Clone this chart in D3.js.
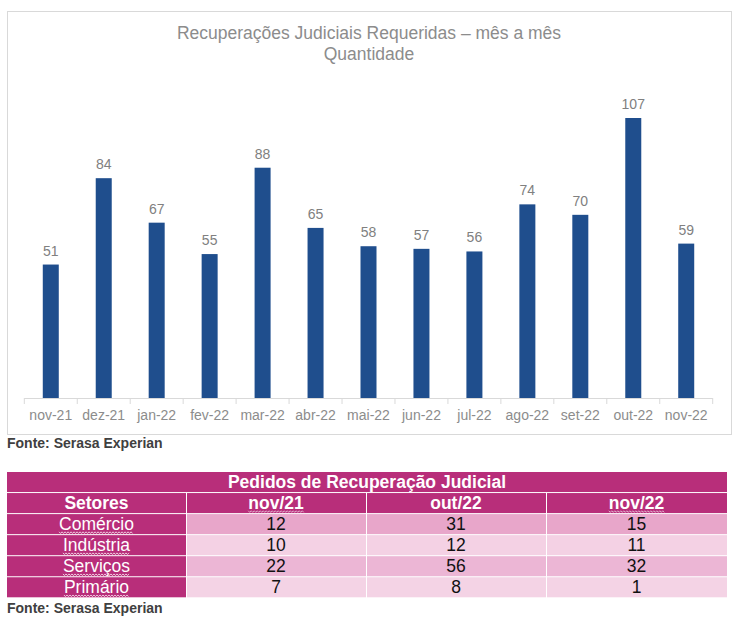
<!DOCTYPE html>
<html>
<head>
<meta charset="utf-8">
<script src="https://cdn.jsdelivr.net/npm/d3@7"></script>
<style>
  html, body { margin: 0; padding: 0; background: #fff; }
  svg { display: block; font-family: "Liberation Sans", Arial, sans-serif; }
</style>
</head>
<body>
<div id="vis"></div>
<script>
(function () {
  'use strict';

  // chart data
  var months = ['nov-21', 'dez-21', 'jan-22', 'fev-22', 'mar-22', 'abr-22', 'mai-22',
    'jun-22', 'jul-22', 'ago-22', 'set-22', 'out-22', 'nov-22'];
  var pedidos = [51, 84, 67, 55, 88, 65, 58, 57, 56, 74, 70, 107, 59];

  // table data
  var setores = ['Comércio', 'Indústria', 'Serviços', 'Primário'];
  var periodos = ['nov/21', 'out/22', 'nov/22'];
  var nov21 = [12, 10, 22, 7];
  var out22 = [31, 12, 56, 8];
  var nov22 = [15, 11, 32, 1];
  var tableTitle = 'Pedidos de Recuperação Judicial';
  var fonte = 'Fonte: Serasa Experian';

  var WIDTH = 735;
  var HEIGHT = 621;
  var BAR_COLOR = '#1f4e8d';
  var MAGENTA = '#b82e7a';
  var ROW_FILLS = ['#e8a6ca', '#f4d1e4', '#ecb6d5', '#f4d3e5'];

  var svg = d3.select('#vis').append('svg')
    .attr('width', WIDTH)
    .attr('height', HEIGHT);

  // chart frame
  svg.append('rect')
    .attr('x', 7.5).attr('y', 11.5)
    .attr('width', 724).attr('height', 423)
    .attr('fill', '#fff')
    .attr('stroke', '#d9d9d9');

  var title = svg.append('text')
    .attr('text-anchor', 'middle')
    .attr('fill', '#8c8c8c')
    .style('font-size', '17.5px');
  title.append('tspan').attr('x', 369).attr('y', 39)
    .text('Recuperações Judiciais Requeridas – mês a mês');
  title.append('tspan').attr('x', 369).attr('y', 60)
    .text('Quantidade');

  var x = d3.scaleBand()
    .domain(months)
    .range([24.3, 712.7])
    .padding(0);
  var y = d3.scaleLinear()
    .domain([0, 107])
    .range([398, 118]);
  var BAR_W = 16;

  svg.append('g').selectAll('rect')
    .data(pedidos)
    .enter().append('rect')
    .attr('x', function (d, i) { return x(months[i]) + x.bandwidth() / 2 - BAR_W / 2; })
    .attr('y', function (d) { return y(d); })
    .attr('width', BAR_W)
    .attr('height', function (d) { return y(0) - y(d); })
    .attr('fill', BAR_COLOR);

  svg.append('g').selectAll('text')
    .data(pedidos)
    .enter().append('text')
    .attr('x', function (d, i) { return x(months[i]) + x.bandwidth() / 2; })
    .attr('y', function (d) { return y(d) - 9; })
    .attr('text-anchor', 'middle')
    .attr('fill', '#808080')
    .style('font-size', '14px')
    .text(function (d) { return d; });

  // category axis with tick marks between bands
  var axis = svg.append('g')
    .attr('transform', 'translate(0,' + y(0) + ')')
    .call(d3.axisBottom(x).tickSize(0).tickPadding(0));
  axis.select('.domain').attr('stroke', '#d9d9d9').attr('d', 'M24.3,0.5H712.7');
  axis.selectAll('.tick text')
    .attr('y', 22)
    .attr('dy', 0)
    .attr('fill', '#8c8c8c')
    .style('font-size', '14px')
    .style('font-family', '"Liberation Sans", Arial, sans-serif');
  var edges = months.map(function (m) { return x(m); }).concat([x.range()[1]]);
  axis.selectAll('line.sep')
    .data(edges)
    .enter().append('line')
    .attr('class', 'sep')
    .attr('x1', function (d) { return d; })
    .attr('x2', function (d) { return d; })
    .attr('y1', 0).attr('y2', 6)
    .attr('stroke', '#d9d9d9');

  svg.append('text')
    .attr('x', 7).attr('y', 448)
    .attr('fill', '#404040')
    .style('font-size', '14px')
    .style('font-weight', 'bold')
    .text(fonte);

  // table
  var colX = [7, 186, 366, 546, 727];
  var TOP = 472;
  var ROW_H = 21.05;
  var GAP = 1;
  var table = svg.append('g');

  function wavy(sel, color) {
    // spell-check style squiggle under a text node
    sel.each(function () {
      var b = this.getBBox();
      var pts = [];
      for (var px = 0; px <= b.width; px += 1.5) {
        pts.push([b.x + px, b.y + b.height - 1.5 + (Math.round(px / 1.5) % 2 ? 1.3 : -0.3)]);
      }
      d3.select(this.parentNode).append('path')
        .attr('d', d3.line()(pts))
        .attr('fill', 'none')
        .attr('stroke', color)
        .attr('stroke-width', 1);
    });
  }

  function cellText(g, cx, rowTop, txt, opts) {
    return g.append('text')
      .attr('x', cx)
      .attr('y', rowTop + ROW_H / 2 + 6)
      .attr('text-anchor', 'middle')
      .attr('fill', opts.color)
      .style('font-size', '17.5px')
      .style('font-weight', opts.bold ? 'bold' : 'normal')
      .text(txt);
  }

  // title row
  table.append('rect')
    .attr('x', colX[0]).attr('y', TOP)
    .attr('width', colX[4] - colX[0]).attr('height', ROW_H - GAP)
    .attr('fill', MAGENTA);
  cellText(table, (colX[0] + colX[4]) / 2, TOP - 1, tableTitle, { color: '#fff', bold: true });

  // header row
  var hTop = TOP + ROW_H;
  var headers = ['Setores'].concat(periodos);
  headers.forEach(function (h, i) {
    table.append('rect')
      .attr('x', colX[i] + (i ? GAP : 0)).attr('y', hTop)
      .attr('width', colX[i + 1] - colX[i] - (i ? GAP : 0)).attr('height', ROW_H - GAP)
      .attr('fill', MAGENTA);
    var t = cellText(table, (colX[i] + colX[i + 1]) / 2, hTop - 1, h, { color: '#fff', bold: true });
    if (h.indexOf('nov') === 0) wavy(t, '#e3a9cb');
  });

  var cols = [nov21, out22, nov22];
  setores.forEach(function (s, r) {
    var top = TOP + ROW_H * (r + 2);
    table.append('rect')
      .attr('x', colX[0]).attr('y', top)
      .attr('width', colX[1] - colX[0]).attr('height', ROW_H - GAP)
      .attr('fill', MAGENTA);
    var t = cellText(table, (colX[0] + colX[1]) / 2, top - 1, s, { color: '#fff' });
    wavy(t, '#f0c8de');
    cols.forEach(function (vals, c) {
      table.append('rect')
        .attr('x', colX[c + 1] + GAP).attr('y', top)
        .attr('width', colX[c + 2] - colX[c + 1] - GAP).attr('height', ROW_H - GAP)
        .attr('fill', ROW_FILLS[r]);
      cellText(table, (colX[c + 1] + colX[c + 2]) / 2, top - 1, vals[r], { color: '#111' });
    });
  });

  svg.append('text')
    .attr('x', 7).attr('y', 613)
    .attr('fill', '#404040')
    .style('font-size', '14px')
    .style('font-weight', 'bold')
    .text(fonte);
})();
</script>
</body>
</html>
